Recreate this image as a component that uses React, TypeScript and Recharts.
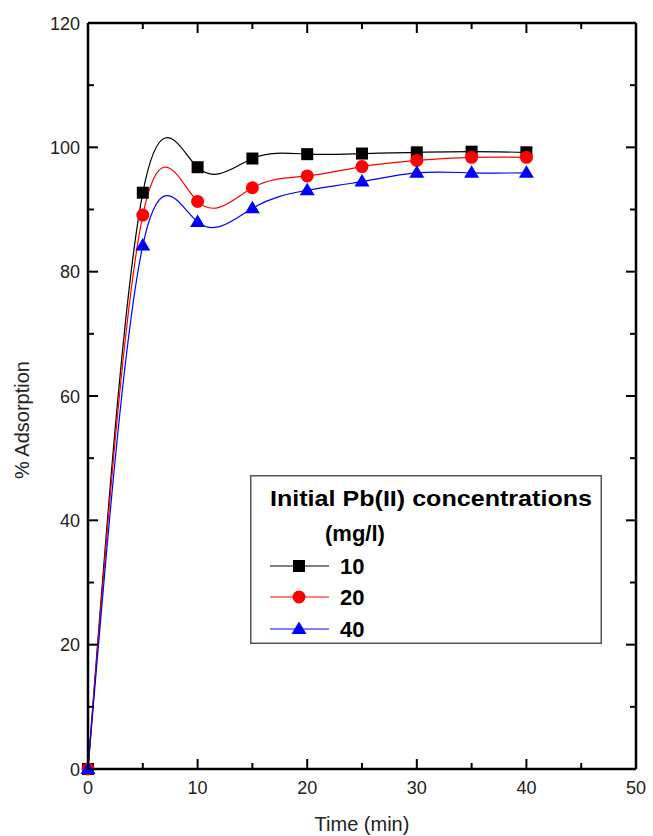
import React from "react";
import { LineChart, Line, XAxis, YAxis, Legend, Label } from "recharts";

// contact time (min)
const times = [0, 5, 10, 15, 20, 25, 30, 35, 40];
// % adsorption for each initial Pb(II) concentration
const conc10 = [0, 92.7, 96.8, 98.2, 98.9, 99.0, 99.2, 99.3, 99.2];
const conc20 = [0, 89.1, 91.3, 93.5, 95.4, 96.9, 97.9, 98.4, 98.4];
const conc40 = [0, 84.2, 88.0, 90.2, 93.1, 94.5, 95.9, 95.9, 95.9];

const seriesNames = ["10", "20", "40"];
const seriesColors = ["#000000", "#ff0000", "#0000ff"];

const xTicks = [0, 5, 10, 15, 20, 25, 30, 35, 40, 45, 50];
const yTicks = [0, 10, 20, 30, 40, 50, 60, 70, 80, 90, 100, 110, 120];

const data = times.map((t, i) => ({
  t,
  c10: conc10[i],
  c20: conc20[i],
  c40: conc40[i],
}));

const FONT = "'Liberation Sans', Arial, sans-serif";
const MAJOR = 10;
const MINOR = 6;

const BottomTick = (props: any) => {
  const { x, y, payload } = props;
  const major = payload.value % 10 === 0;
  return (
    <g>
      <line x1={x} x2={x} y1={y} y2={y - (major ? MAJOR : MINOR)} stroke="#000" strokeWidth={2} />
      {major && (
        <text x={x} y={y + 25} textAnchor="middle" fontSize={18} fontFamily={FONT} fill="#222">
          {payload.value}
        </text>
      )}
    </g>
  );
};

const TopTick = (props: any) => {
  const { x, y, payload } = props;
  const major = payload.value % 10 === 0;
  return <line x1={x} x2={x} y1={y} y2={y + (major ? MAJOR : MINOR)} stroke="#000" strokeWidth={2} />;
};

const LeftTick = (props: any) => {
  const { x, y, payload } = props;
  const major = payload.value % 20 === 0;
  return (
    <g>
      <line x1={x} x2={x + (major ? MAJOR : MINOR)} y1={y} y2={y} stroke="#000" strokeWidth={2} />
      {major && (
        <text x={x - 8} y={y + 6.5} textAnchor="end" fontSize={18} fontFamily={FONT} fill="#222">
          {payload.value}
        </text>
      )}
    </g>
  );
};

const RightTick = (props: any) => {
  const { x, y, payload } = props;
  const major = payload.value % 20 === 0;
  return <line x1={x} x2={x - (major ? MAJOR : MINOR)} y1={y} y2={y} stroke="#000" strokeWidth={2} />;
};

const Marker = ({ kind, cx, cy, fill }: { kind: number; cx: number; cy: number; fill: string }) => {
  if (cx == null || cy == null) return null;
  if (kind === 0) return <rect x={cx - 6} y={cy - 6} width={12} height={12} fill={fill} />;
  if (kind === 1) return <circle cx={cx} cy={cy} r={6.5} fill={fill} />;
  return <polygon points={`${cx},${cy - 7.5} ${cx + 7.5},${cy + 5} ${cx - 7.5},${cy + 5}`} fill={fill} />;
};

const LegendBox = () => (
  <svg width={352} height={169} style={{ display: "block" }}>
    <rect x={0.75} y={0.75} width={350.5} height={167.5} fill="#fff" stroke="#555" strokeWidth={1.5} />
    <text x={20} y={31} fontSize={22} fontWeight="bold" fontFamily={FONT} textLength={322} lengthAdjust="spacingAndGlyphs">
      Initial Pb(II) concentrations
    </text>
    <text x={75} y={66} fontSize={22} fontWeight="bold" fontFamily={FONT}>
      (mg/l)
    </text>
    {seriesNames.map((name, i) => {
      const cy = [91, 122, 154][i];
      return (
        <g key={name}>
          <line x1={20} x2={79} y1={cy} y2={cy} stroke={seriesColors[i]} strokeWidth={1} />
          <Marker kind={i} cx={49} cy={cy} fill={seriesColors[i]} />
          <text x={90} y={cy + 8} fontSize={22} fontWeight="bold" fontFamily={FONT}>
            {name}
          </text>
        </g>
      );
    })}
  </svg>
);

const keys = ["c10", "c20", "c40"];

export default function App() {
  return (
    <div style={{ position: "absolute", left: 0, top: 0, width: 653, height: 836, background: "#fff" }}>
      <LineChart width={653} height={836} data={data} margin={{ top: 22, right: 16, bottom: 0, left: 0 }}>
        <XAxis
          dataKey="t"
          type="number"
          domain={[0, 50]}
          ticks={xTicks}
          interval={0}
          height={67}
          tickSize={0}
          tickMargin={0}
          tickLine={false}
          tick={BottomTick}
          axisLine={{ stroke: "#000", strokeWidth: 2.5 }}
        >
          <Label
            content={() => (
              <text x={362} y={831} textAnchor="middle" fontSize={20} fontFamily={FONT} fill="#222">
                Time (min)
              </text>
            )}
          />
        </XAxis>
        <XAxis
          xAxisId="top"
          orientation="top"
          dataKey="t"
          type="number"
          domain={[0, 50]}
          ticks={xTicks}
          interval={0}
          height={1}
          tickSize={0}
          tickMargin={0}
          tickLine={false}
          tick={TopTick}
          axisLine={{ stroke: "#000", strokeWidth: 2.5 }}
        />
        <YAxis
          type="number"
          domain={[0, 120]}
          ticks={yTicks}
          interval={0}
          width={88}
          tickSize={0}
          tickMargin={0}
          tickLine={false}
          tick={LeftTick}
          axisLine={{ stroke: "#000", strokeWidth: 2.5 }}
        >
          <Label
            content={() => (
              <text
                x={0}
                y={0}
                transform="translate(29,420) rotate(-90)"
                textAnchor="middle"
                fontSize={20}
                fontFamily={FONT}
                fill="#222"
              >
                % Adsorption
              </text>
            )}
          />
        </YAxis>
        <YAxis
          yAxisId="right"
          orientation="right"
          type="number"
          domain={[0, 120]}
          allowDataOverflow
          ticks={yTicks}
          interval={0}
          width={1}
          tickSize={0}
          tickMargin={0}
          tickLine={false}
          tick={RightTick}
          axisLine={{ stroke: "#000", strokeWidth: 2.5 }}
        />
        {keys.map((k, i) => (
          <Line
            key={k}
            dataKey={k}
            name={seriesNames[i]}
            type="natural"
            stroke={seriesColors[i]}
            strokeWidth={1.2}
            isAnimationActive={false}
            dot={(p: any) => <Marker key={`${k}-${p.index}`} kind={i} cx={p.cx} cy={p.cy} fill={seriesColors[i]} />}
            activeDot={false}
          />
        ))}
        <Legend
          layout="vertical"
          align="center"
          verticalAlign="middle"
          wrapperStyle={{ position: "absolute", left: 250, top: 475, width: 352, height: 169 }}
          content={() => <LegendBox />}
        />
      </LineChart>
    </div>
  );
}
